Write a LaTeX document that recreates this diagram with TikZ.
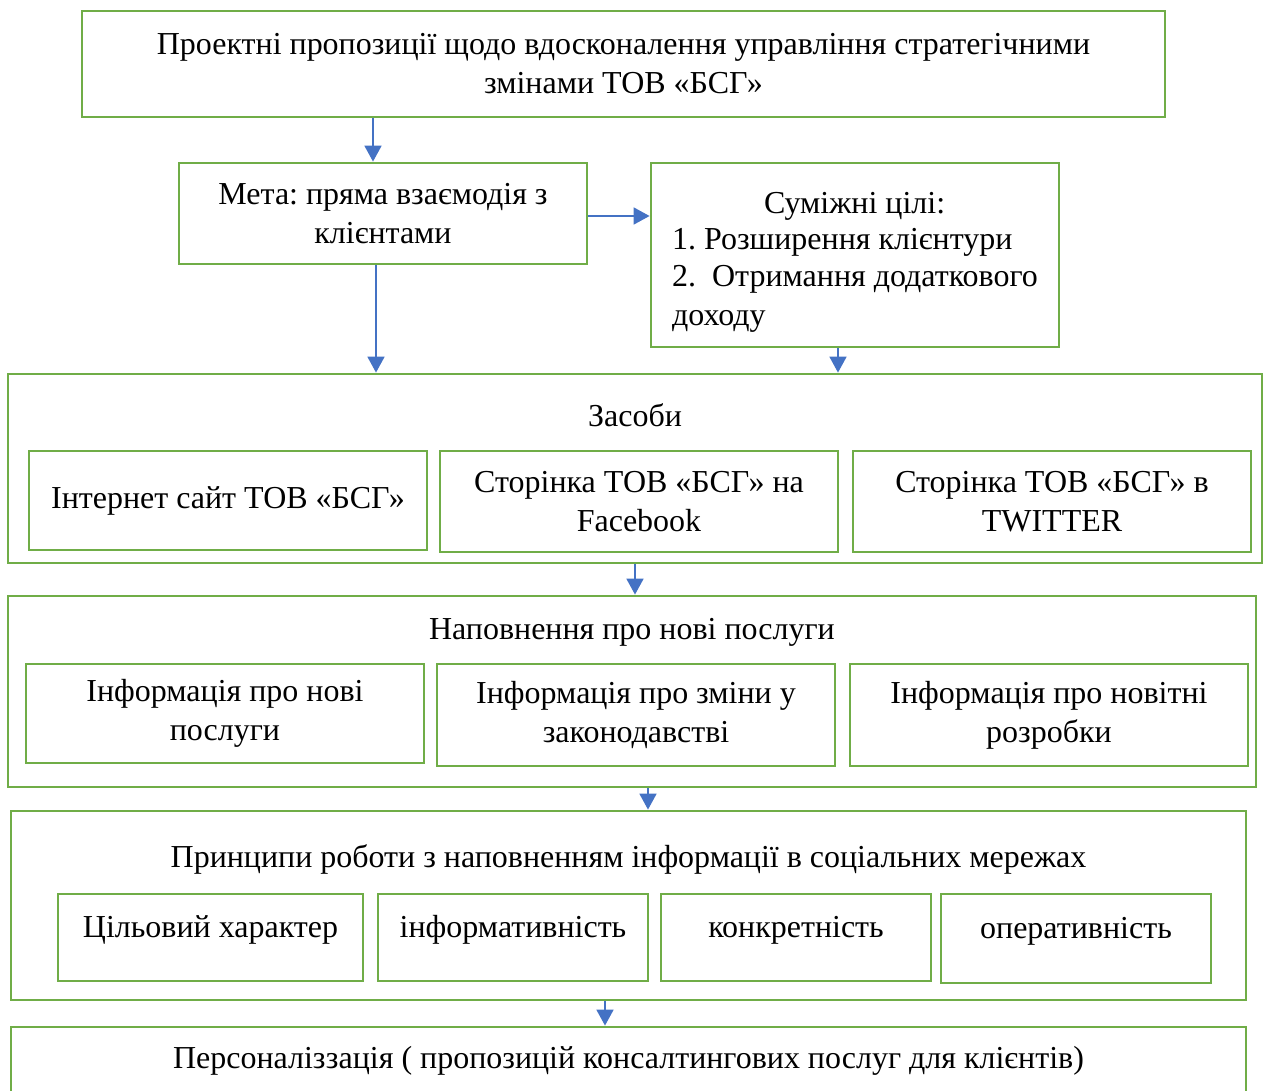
\documentclass[tikz,border=0pt]{standalone}
\usepackage{fontspec}
\setmainfont{Liberation Serif}
\usepackage{xcolor}
\usepackage{tikz}
\usetikzlibrary{arrows.meta}
\definecolor{boxgreen}{HTML}{70AD47}
\definecolor{arrblue}{HTML}{4472C4}
\frenchspacing

\begin{document}
\begin{tikzpicture}[
                every node/.style={align=center, font=\fontsize{18.2}{22.2}\selectfont},
                box/.style={draw=boxgreen, line width=1.6pt, inner sep=0pt},
                low/.style={text height=0.5cm, text depth=0.5cm},
                edge/.style={draw=arrblue, line width=1pt, -{Triangle[width=0.34cm, length=0.32cm]}}
            ]
            \useasboundingbox (0,0) rectangle (25.3,-21.82);

            % Nodes
            \node[box, minimum width=21.66cm, minimum height=2.12cm] (top) at (12.47,-1.28)
                {Проектні пропозиції щодо вдосконалення управління стратегічними\\змінами ТОВ «БСГ»};
            \node[box, minimum width=8.16cm, minimum height=2.02cm] (meta) at (7.66,-4.27)
                {Мета: пряма взаємодія з\\клієнтами};
            \node[box, minimum width=8.16cm, minimum height=3.68cm, align=left] (goals) at (17.10,-5.10)
                {\rule{0pt}{0.7cm}\makebox[7.3cm]{Суміжні цілі:}\\[-0.05cm]1. Розширення клієнтури\\[-0.05cm]2.\ \ Отримання додаткового\\доходу};

            \node[box, minimum width=25.08cm, minimum height=3.78cm] (zasoby) at (12.70,-9.37) {};
            \node (zasobyT) at (12.70,-8.30) {Засоби};
            \node[box, minimum width=7.96cm, minimum height=1.98cm] (site) at (4.56,-10.01) {Інтернет сайт ТОВ «БСГ»};
            \node[box, minimum width=7.96cm, minimum height=2.02cm] (fb) at (12.78,-10.03) {Сторінка ТОВ «БСГ» на\\Facebook};
            \node[box, minimum width=7.96cm, minimum height=2.02cm] (tw) at (21.04,-10.03) {Сторінка ТОВ «БСГ» в\\TWITTER};

            \node[box, minimum width=24.96cm, minimum height=3.82cm] (napovn) at (12.64,-13.83) {};
            \node (napovnT) at (12.64,-12.64) {Наповнення про нові послуги};
            \node[box, minimum width=7.96cm, minimum height=1.98cm] (info1) at (4.50,-14.27) {Інформація про нові\\послуги};
            \node[box, minimum width=7.96cm, minimum height=2.04cm] (info2) at (12.72,-14.30) {Інформація про зміни у\\законодавстві};
            \node[box, minimum width=7.96cm, minimum height=2.04cm] (info3) at (20.98,-14.30) {Інформація про новітні\\розробки};

            \node[box, minimum width=24.70cm, minimum height=3.78cm] (pryntsyp) at (12.57,-18.11) {};
            \node (pryntsypT) at (12.57,-17.18) {Принципи роботи з наповненням інформації в соціальних мережах};
            \node[box, low, minimum width=6.10cm, minimum height=1.74cm] (p1) at (4.21,-18.75) {Цільовий характер};
            \node[box, low, minimum width=5.40cm, minimum height=1.74cm] (p2) at (10.26,-18.75) {інформативність};
            \node[box, low, minimum width=5.40cm, minimum height=1.74cm] (p3) at (15.92,-18.75) {конкретність};
            \node[box, low, minimum width=5.40cm, minimum height=1.78cm] (p4) at (21.52,-18.77) {оперативність};

            \node[box, minimum width=24.70cm, minimum height=1.46cm] (person) at (12.57,-21.27) {};
            \node (personT) at (12.57,-21.22) {Персоналіззація ( пропозицій консалтингових послуг для клієнтів)};

            % Edges
            \draw[edge] ([xshift=-0.2cm]meta.north |- top.south) -- ([xshift=-0.2cm]meta.north);
            \draw[edge] ([yshift=-0.05cm]meta.east) -- ([yshift=-0.05cm]meta.east -| goals.west);
            \draw[edge] ([xshift=-0.14cm]meta.south) -- ([xshift=-0.14cm]meta.south |- zasoby.north);
            \draw[edge] ([xshift=-0.34cm]goals.south) -- ([xshift=-0.34cm]goals.south |- zasoby.north);
            \draw[edge] (zasoby.south) -- (zasoby.south |- napovn.north);
            \draw[edge] ([xshift=0.32cm]napovn.south) -- ([xshift=0.32cm]napovn.south |- pryntsyp.north);
            \draw[edge] ([xshift=-0.47cm]pryntsyp.south) -- ([xshift=-0.47cm]pryntsyp.south |- person.north);

            \end{tikzpicture}
\end{document}
